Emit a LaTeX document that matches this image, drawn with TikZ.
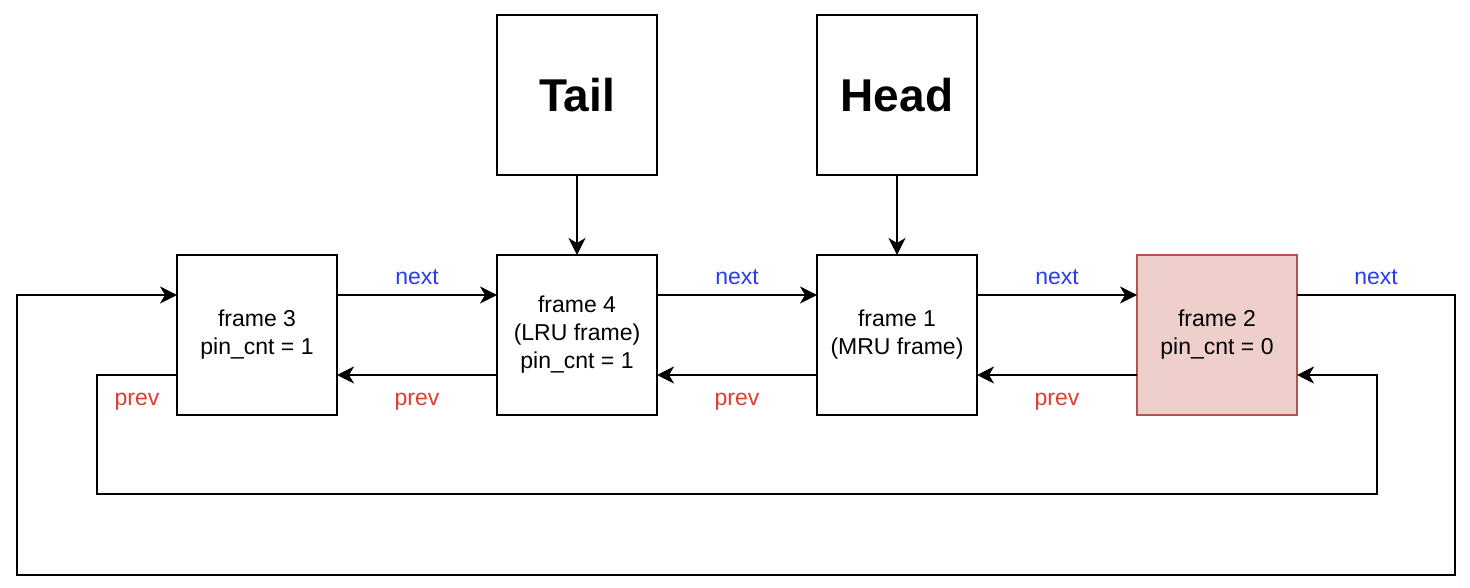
\documentclass[tikz,border=0pt]{standalone}
\usepackage{fontspec}
\setmainfont{Liberation Sans}
\usetikzlibrary{arrows.meta,positioning}
\definecolor{nextBlue}{RGB}{40,60,240}
\definecolor{prevRed} {RGB}{225,60,45}
\definecolor{hotFill} {RGB}{238,207,204}
\definecolor{hotEdge} {RGB}{180,84,80}

\begin{document}
\begin{tikzpicture}[x=0.5pt, y=-0.5pt,
      node distance=40pt and 80pt,
      frame/.style={draw=black, line width=1pt, minimum width=80pt,
                    minimum height=80pt, align=center, inner sep=0pt,
                    outer sep=0pt, font=\fontsize{11.5}{14}\selectfont},
      ptr/.style={frame, font=\fontsize{23}{27}\selectfont\bfseries},
      link/.style={-{Stealth[length=8.5pt, width=8.5pt, inset=2.5pt]}, line width=1pt},
      nextlbl/.style={font=\fontsize{11.5}{14}\selectfont, text=nextBlue, inner sep=4.5pt},
      prevlbl/.style={font=\fontsize{11.5}{14}\selectfont, text=prevRed, inner sep=8.5pt}]
    \useasboundingbox (0,0) rectangle (1470,588);
    % list of frames
    \node[frame] (f3) at (257,335) {frame 3\\pin\_cnt = 1};
    \node[frame, right=of f3] (f4) {frame 4\\(LRU frame)\\pin\_cnt = 1};
    \node[frame, right=of f4] (f1) {frame 1\\(MRU frame)};
    \node[frame, right=of f1, fill=hotFill, draw=hotEdge] (f2) {frame 2\\pin\_cnt = 0};
    % pointers
    \node[ptr, above=of f4] (tail) {Tail};
    \node[ptr, above=of f1] (head) {Head};
    \draw[link] (tail) -- (f4);
    \draw[link] (head) -- (f1);
    % next links
    \draw[link] ([yshift=20pt]f3.east) -- node[above, nextlbl] {next} ([yshift=20pt]f4.west);
    \draw[link] ([yshift=20pt]f4.east) -- node[above, nextlbl] {next} ([yshift=20pt]f1.west);
    \draw[link] ([yshift=20pt]f1.east) -- node[above, nextlbl] {next} ([yshift=20pt]f2.west);
    % prev links
    \draw[link] ([yshift=-20pt]f4.west) -- node[below, prevlbl] {prev} ([yshift=-20pt]f3.east);
    \draw[link] ([yshift=-20pt]f1.west) -- node[below, prevlbl] {prev} ([yshift=-20pt]f4.east);
    \draw[link] ([yshift=-20pt]f2.west) -- node[below, prevlbl] {prev} ([yshift=-20pt]f1.east);
    % wrap-around
    \coordinate (nr) at (1455,295);
    \coordinate (nl) at (17,575);
    \coordinate (pl) at (97,375);
    \coordinate (pr) at (1377,494);
    \draw[link] ([yshift=20pt]f2.east) -- node[above, nextlbl] {next} (nr)
      |- (nl) |- ([yshift=20pt]f3.west);
    \draw[link] ([yshift=-20pt]f3.west) -- node[below, prevlbl] {prev} (pl)
      |- (pr) |- ([yshift=-20pt]f2.east);
  \end{tikzpicture}
\end{document}
